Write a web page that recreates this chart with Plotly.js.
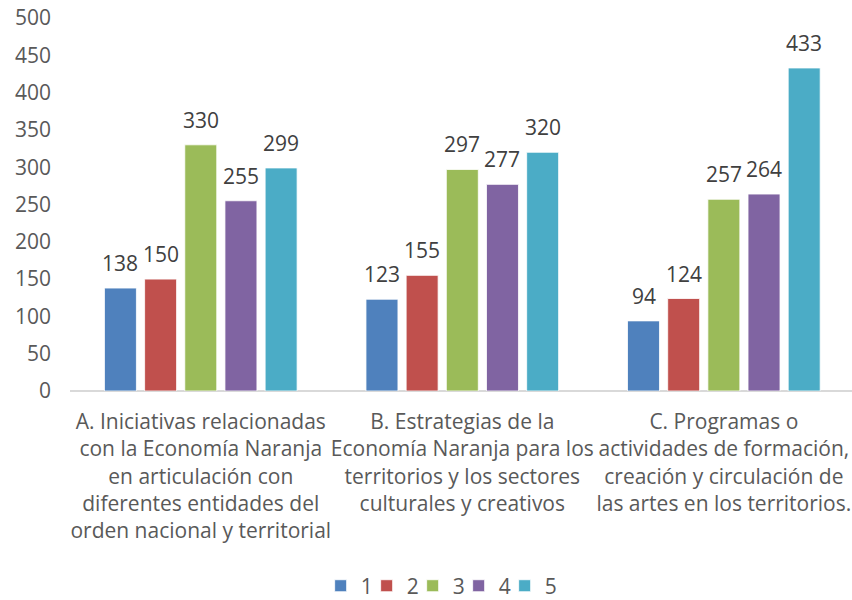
<!DOCTYPE html>
<html>
<head>
<meta charset="utf-8">
<script src="https://cdn.plot.ly/plotly-3.0.1.min.js"></script>
<style>html,body{margin:0;padding:0;background:#fff;overflow:hidden}</style>
</head>
<body>
<div id="chart" style="width:852px;height:600px"></div>
<script>
var categories = [
  "A. Iniciativas relacionadas<br>con la Economía Naranja<br>en articulación con<br>diferentes entidades del<br>orden nacional y territorial",
  "B. Estrategias de la<br>Economía Naranja para los<br>territorios y los sectores<br>culturales y creativos",
  "C. Programas o<br>actividades de formación,<br>creación y circulación de<br>las artes en los territorios."
];
var seriesNames = ["1", "2", "3", "4", "5"];
var s1 = [138, 123, 94];
var s2 = [150, 155, 124];
var s3 = [330, 297, 257];
var s4 = [255, 277, 264];
var s5 = [299, 320, 433];
var yTicks = [0, 50, 100, 150, 200, 250, 300, 350, 400, 450, 500];

var seriesValues = [s1, s2, s3, s4, s5];
var colors = ["#4F81BD", "#C0504D", "#9BBB59", "#8064A2", "#4BACC6"];
var FONT = "Open Sans, DejaVu Sans, sans-serif";
var FS = 21;
var bargap = 0.232;
var slot = (1 - bargap) / 5;

var traces = seriesValues.map(function (vals, i) {
  return {
    type: "bar",
    name: seriesNames[i],
    x: categories,
    y: vals,
    marker: {color: colors[i], line: {color: "#FFFFFF", width: 0.8}},
    hoverinfo: "none"
  };
});
// invisible spacer legend entry so the last legend label is not clipped
traces.push({
  type: "scatter", mode: "markers", name: "\u00a0",
  x: [null], y: [null],
  marker: {color: "rgba(0,0,0,0)", size: 1},
  showlegend: true, hoverinfo: "none"
});

var annotations = [];
seriesValues.forEach(function (vals, i) {
  vals.forEach(function (v, c) {
    annotations.push({
      x: c + (i - 2) * slot,
      y: v,
      xref: "x", yref: "y",
      text: String(v),
      showarrow: false,
      yanchor: "middle",
      yshift: 25,
      font: {family: FONT, size: FS, color: "#404040"}
    });
  });
});

var layout = {
  width: 852, height: 600,
  margin: {l: 70, r: 0, t: 18, b: 209, autoexpand: false},
  paper_bgcolor: "#FFFFFF", plot_bgcolor: "#FFFFFF",
  barmode: "group",
  bargap: bargap,
  bargroupgap: 0.204,
  font: {family: FONT, size: FS, color: "#595959"},
  xaxis: {
    type: "category",
    range: [-0.5, 2.49],
    showgrid: false, zeroline: false,
    showline: false,
    ticks: "",
    tickangle: 0,
    automargin: false,
    ticklabelstandoff: 16,
    tickfont: {family: FONT, size: FS, color: "#595959"}
  },
  yaxis: {
    range: [0, 500],
    tickvals: yTicks,
    ticktext: yTicks.map(String),
    showgrid: false,
    zeroline: true, zerolinecolor: "#D9D9D9", zerolinewidth: 1.5,
    showline: false,
    ticks: "",
    automargin: false,
    ticklabelstandoff: 18,
    tickfont: {family: FONT, size: FS, color: "#595959"}
  },
  showlegend: true,
  legend: {
    orientation: "h",
    x: 0.497, xanchor: "center",
    y: -0.523, yanchor: "middle",
    font: {family: FONT, size: FS, color: "#595959"},
    itemwidth: 30,
    entrywidth: 1,
    entrywidthmode: "pixels",
    traceorder: "normal"
  },
  annotations: annotations
};

Plotly.newPlot("chart", traces, layout, {staticPlot: true, displayModeBar: false});
</script>
</body>
</html>
